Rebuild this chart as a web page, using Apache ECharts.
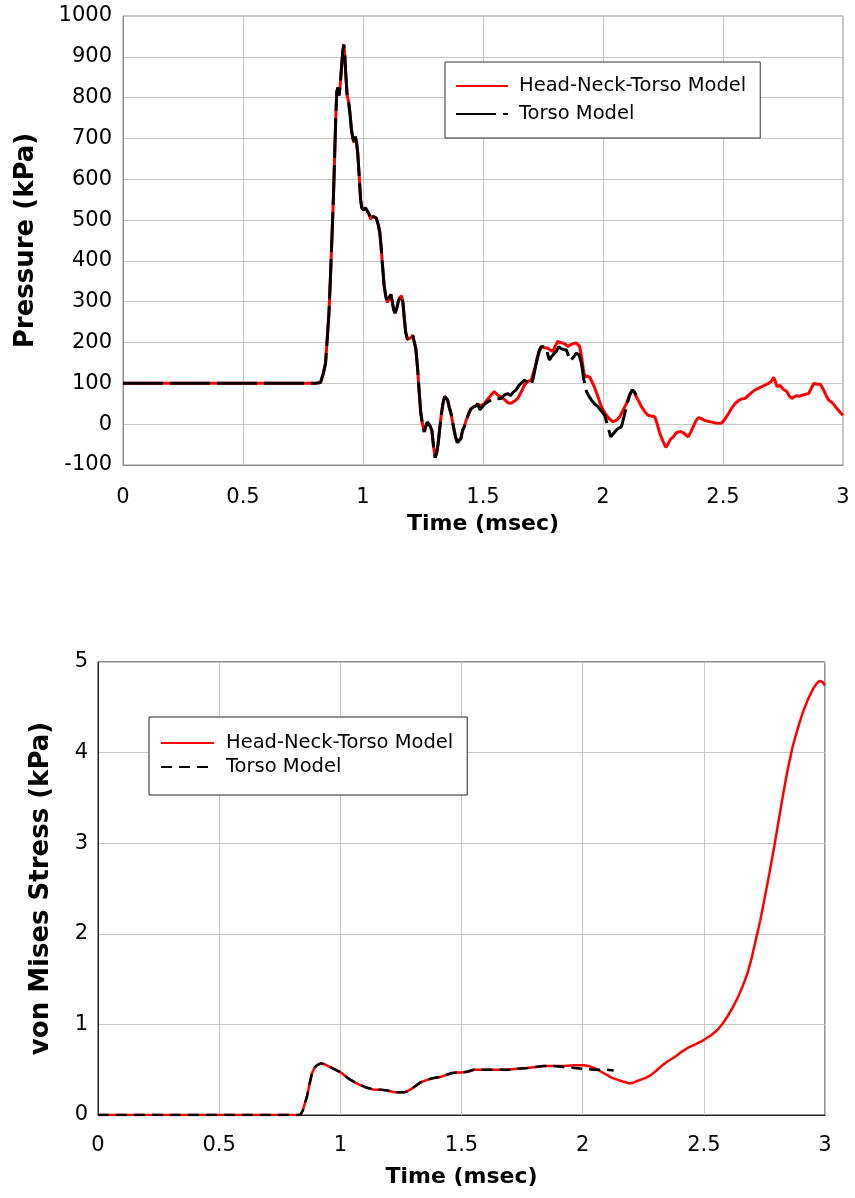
<!DOCTYPE html>
<html><head><meta charset="utf-8">
<script src="https://cdn.jsdelivr.net/npm/echarts@6/dist/echarts.min.js"></script>
<style>html,body{margin:0;padding:0;background:#fff}#c{width:855px;height:1198px}</style>
</head><body><div id="c"></div>
<script>
const seriesNames = ['Head-Neck-Torso Model', 'Torso Model'];

// ---- Top chart: Pressure (kPa) vs Time (msec) ----
// shared portion (both models coincide)
const pEarlyT = [0,0.80,0.823,0.835,0.844,0.851,0.858,0.865,0.872,0.877,0.882,0.887,0.891,0.896,0.900,0.905,0.910,0.916,0.920,0.924,0.929,0.934,0.940,0.946,0.952,0.958,0.963,0.968,0.973,0.978,0.984,0.990,0.995,1.002,1.010,1.018,1.025,1.032,1.039,1.046,1.055,1.063,1.070,1.076,1.081,1.088,1.095,1.102,1.109,1.116,1.122,1.128,1.134,1.141,1.147,1.153,1.160,1.166,1.172,1.178,1.185,1.192,1.200,1.207,1.213,1.220,1.227,1.234,1.241,1.248,1.255,1.262,1.268,1.273,1.280,1.287,1.294,1.301,1.307,1.313,1.319,1.325,1.333,1.340,1.346,1.352,1.360,1.367,1.375,1.385,1.393,1.401,1.408,1.415,1.422,1.430,1.440,1.450,1.460,1.470,1.478];
const pEarlyV = [100,100,102,125,150,210,270,370,480,560,660,760,815,825,805,830,870,915,930,905,850,805,790,760,720,700,690,705,690,665,610,550,530,525,530,527,515,502,510,514,505,490,470,430,390,340,313,298,310,318,300,280,272,285,300,310,315,300,260,225,208,210,212,218,215,185,140,80,26,0,-19,-5,5,6,-5,-15,-55,-82,-70,-48,-15,18,50,68,72,60,40,26,0,-30,-45,-48,-35,-15,-6,10,25,38,42,45,50];
// Head-Neck-Torso late part
const pHntT = [1.487,1.495,1.505,1.515,1.525,1.535,1.547,1.555,1.565,1.575,1.590,1.605,1.617,1.630,1.645,1.660,1.673,1.685,1.701,1.712,1.722,1.733,1.743,1.755,1.770,1.780,1.791,1.800,1.812,1.822,1.833,1.845,1.854,1.865,1.878,1.889,1.896,1.903,1.912,1.918,1.924,1.935,1.945,1.952,1.965,1.979,1.990,2.000,2.014,2.028,2.042,2.056,2.070,2.084,2.098,2.110,2.121,2.130,2.139,2.150,2.160,2.175,2.188,2.200,2.216,2.226,2.237,2.250,2.262,2.270,2.280,2.293,2.304,2.314,2.324,2.334,2.345,2.355,2.365,2.376,2.387,2.397,2.410,2.420,2.432,2.445,2.456,2.467,2.480,2.495,2.510,2.523,2.537,2.551,2.565,2.578,2.592,2.605,2.620,2.634,2.648,2.662,2.676,2.690,2.700,2.711,2.718,2.725,2.731,2.738,2.745,2.752,2.759,2.766,2.775,2.787,2.797,2.808,2.818,2.829,2.843,2.857,2.868,2.878,2.885,2.893,2.906,2.918,2.930,2.940,2.950,2.960,2.968,2.980,2.990,3.000];
const pHntV = [45,42,50,58,65,72,80,75,70,67,60,52,51,56,63,80,96,104,108,130,149,175,190,188,186,182,178,190,203,200,199,195,190,195,198,199,198,190,160,135,116,118,115,112,90,67,48,35,22,12,6,10,18,35,51,70,82,78,67,55,43,30,22,20,18,0,-23,-42,-57,-50,-38,-31,-22,-19,-18,-21,-26,-31,-20,-6,8,16,14,10,8,6,5,3,2,3,14,26,40,51,58,62,63,70,78,84,88,92,96,100,104,115,105,92,88,95,90,85,88,80,70,63,67,70,68,71,73,75,88,100,102,98,98,85,70,59,55,50,43,35,28,22];
// Torso late part
const pTorsoT = [1.487,1.495,1.505,1.520,1.534,1.545,1.555,1.575,1.590,1.603,1.615,1.625,1.638,1.650,1.662,1.673,1.687,1.701,1.708,1.715,1.725,1.735,1.743,1.752,1.764,1.770,1.777,1.785,1.795,1.805,1.815,1.825,1.836,1.847,1.856,1.863,1.868,1.878,1.889,1.900,1.910,1.920,1.931,1.940,1.952,1.965,1.979,1.993,2.007,2.020,2.032,2.040,2.049,2.060,2.077,2.088,2.098,2.110,2.121,2.130,2.139];
const pTorsoV = [35,38,48,55,59,58,62,63,72,75,70,78,84,95,102,108,102,96,110,129,160,182,190,190,186,170,157,165,172,178,190,185,183,182,168,155,153,165,174,170,150,110,80,70,59,50,43,32,22,-5,-31,-25,-19,-12,-6,20,43,70,84,80,71];

// ---- Bottom chart: von Mises Stress (kPa) vs Time (msec) ----
const sEarlyT = [0,0.835,0.845,0.855,0.862,0.872,0.883,0.893,0.904,0.920,0.935,0.950,0.965,0.979,0.995,1.007,1.025,1.041,1.060,1.083,1.110,1.138,1.165,1.193,1.210,1.227,1.245,1.262,1.275,1.289,1.310,1.331,1.350,1.372,1.390,1.413,1.435,1.455,1.480,1.503,1.527,1.551,1.580,1.606,1.650,1.689,1.730,1.771,1.805,1.840,1.880];
const sEarlyV = [0,0,0.05,0.14,0.20,0.33,0.46,0.52,0.55,0.57,0.56,0.54,0.52,0.50,0.48,0.46,0.42,0.39,0.36,0.33,0.30,0.28,0.28,0.27,0.26,0.25,0.25,0.25,0.26,0.28,0.32,0.36,0.38,0.40,0.41,0.42,0.44,0.46,0.47,0.47,0.48,0.50,0.50,0.50,0.50,0.50,0.51,0.52,0.53,0.54,0.54];
const sHntT = [1.923,1.965,2.005,2.025,2.047,2.075,2.102,2.120,2.143,2.165,2.191,2.202,2.220,2.240,2.260,2.281,2.300,2.325,2.350,2.380,2.410,2.433,2.465,2.501,2.530,2.557,2.578,2.598,2.620,2.639,2.660,2.681,2.698,2.715,2.733,2.750,2.770,2.791,2.808,2.826,2.845,2.867,2.888,2.908,2.930,2.950,2.965,2.977,2.990,3.000];
const sHntV = [0.54,0.55,0.55,0.54,0.52,0.48,0.44,0.41,0.39,0.37,0.35,0.35,0.37,0.39,0.41,0.44,0.48,0.54,0.59,0.64,0.70,0.74,0.78,0.83,0.88,0.94,1.01,1.09,1.19,1.29,1.42,1.57,1.74,1.94,2.15,2.38,2.66,2.97,3.24,3.52,3.80,4.07,4.27,4.44,4.59,4.70,4.76,4.79,4.78,4.74];
const sTorsoT = [1.923,1.965,2.005,2.047,2.100,2.128];
const sTorsoV = [0.53,0.52,0.51,0.50,0.50,0.49];

function pairs(t, v) { return t.map((x, i) => [x, v[i]]); }

const FONT = 'DejaVu Sans';
const tickLabel = { fontFamily: FONT, fontSize: 21, color: '#000', formatter: v => String(v) };
const axisTitle = { fontFamily: FONT, fontSize: 22, fontWeight: 'bold', color: '#000' };
const yTitle = { fontFamily: FONT, fontSize: 26, fontWeight: 'bold', color: '#000' };
const gridColor = '#c6c6c6';
const legendText = { fontFamily: FONT, fontSize: 19.5, color: '#000' };

const chart = echarts.init(document.getElementById('c'), null, { renderer: 'canvas' });
chart.setOption({
  animation: false,
  backgroundColor: '#fff',
  grid: [
    { left: 123, top: 16, width: 720, height: 449, show: true, borderColor: '#8a8a8a', borderWidth: 1 },
    { left: 98, top: 662, width: 727, height: 453, show: true, borderColor: '#222', borderWidth: 1 }
  ],
  xAxis: [
    { gridIndex: 0, type: 'value', min: 0, max: 3, interval: 0.5,
      name: 'Time (msec)', nameLocation: 'middle', nameGap: 48, nameTextStyle: axisTitle,
      axisLine: { onZero: false, lineStyle: { color: '#8a8a8a' } }, axisTick: { show: false },
      axisLabel: Object.assign({ margin: 22 }, tickLabel),
      splitLine: { show: true, lineStyle: { color: gridColor } } },
    { gridIndex: 1, type: 'value', min: 0, max: 3, interval: 0.5,
      name: 'Time (msec)', nameLocation: 'middle', nameGap: 51, nameTextStyle: axisTitle,
      axisLine: { onZero: false, lineStyle: { color: '#222' } }, axisTick: { show: false },
      axisLabel: Object.assign({ margin: 20 }, tickLabel),
      splitLine: { show: true, lineStyle: { color: gridColor } } }
  ],
  yAxis: [
    { gridIndex: 0, type: 'value', min: -100, max: 1000, interval: 100,
      name: 'Pressure (kPa)', nameLocation: 'middle', nameGap: 84, nameTextStyle: yTitle,
      axisLine: { show: true, lineStyle: { color: '#8a8a8a' } }, axisTick: { show: false },
      axisLabel: Object.assign({ margin: 11 }, tickLabel),
      splitLine: { show: true, lineStyle: { color: gridColor } } },
    { gridIndex: 1, type: 'value', min: 0, max: 5, interval: 1,
      name: 'von Mises Stress (kPa)', nameLocation: 'middle', nameGap: 44, nameTextStyle: yTitle,
      axisLine: { show: true, lineStyle: { color: '#222' } }, axisTick: { show: false },
      axisLabel: Object.assign({ margin: 10 }, tickLabel),
      splitLine: { show: true, lineStyle: { color: gridColor } } }
  ],
  legend: [
    { orient: 'vertical', left: 445, top: 62, selectedMode: false,
      padding: [14, 14, 14, 10], itemGap: 8, itemWidth: 52, itemHeight: 14,
      borderColor: '#333', borderWidth: 1, backgroundColor: '#fff',
      itemStyle: { opacity: 0 },
      textStyle: Object.assign({ padding: [0, 0, 0, 6] }, legendText),
      data: [{ name: seriesNames[0] }, { name: seriesNames[1], lineStyle: { type: [40, 7] } }] },
    { orient: 'vertical', left: 149, top: 717, selectedMode: false,
      padding: [16, 14, 18, 11], itemGap: 4, itemWidth: 53, itemHeight: 14,
      borderColor: '#222', borderWidth: 1, backgroundColor: '#fff',
      itemStyle: { opacity: 0 },
      textStyle: Object.assign({ padding: [0, 0, 0, 7] }, legendText),
      data: [{ name: seriesNames[0] }, { name: seriesNames[1], lineStyle: { type: [11, 7] } }] }
  ],
  series: [
    { name: seriesNames[0], type: 'line', xAxisIndex: 0, yAxisIndex: 0, symbol: 'none', showSymbol: false,
      lineStyle: { color: '#ff0000', width: 3 }, itemStyle: { color: '#ff0000' },
      data: pairs(pEarlyT.concat(pHntT), pEarlyV.concat(pHntV)) },
    { name: seriesNames[1], type: 'line', xAxisIndex: 0, yAxisIndex: 0, symbol: 'none', showSymbol: false,
      lineStyle: { color: '#000', width: 3, type: [40, 7] }, itemStyle: { color: '#000' },
      data: pairs(pEarlyT.concat(pTorsoT), pEarlyV.concat(pTorsoV)) },
    { name: seriesNames[0], type: 'line', xAxisIndex: 1, yAxisIndex: 1, symbol: 'none', showSymbol: false,
      lineStyle: { color: '#ff0000', width: 2.5 }, itemStyle: { color: '#ff0000' },
      data: pairs(sEarlyT.concat(sHntT), sEarlyV.concat(sHntV)) },
    { name: seriesNames[1], type: 'line', xAxisIndex: 1, yAxisIndex: 1, symbol: 'none', showSymbol: false,
      lineStyle: { color: '#000', width: 2.5, type: [11, 7] }, itemStyle: { color: '#000' },
      data: pairs(sEarlyT.concat(sTorsoT), sEarlyV.concat(sTorsoV)) }
  ]
});
</script>
</body></html>
